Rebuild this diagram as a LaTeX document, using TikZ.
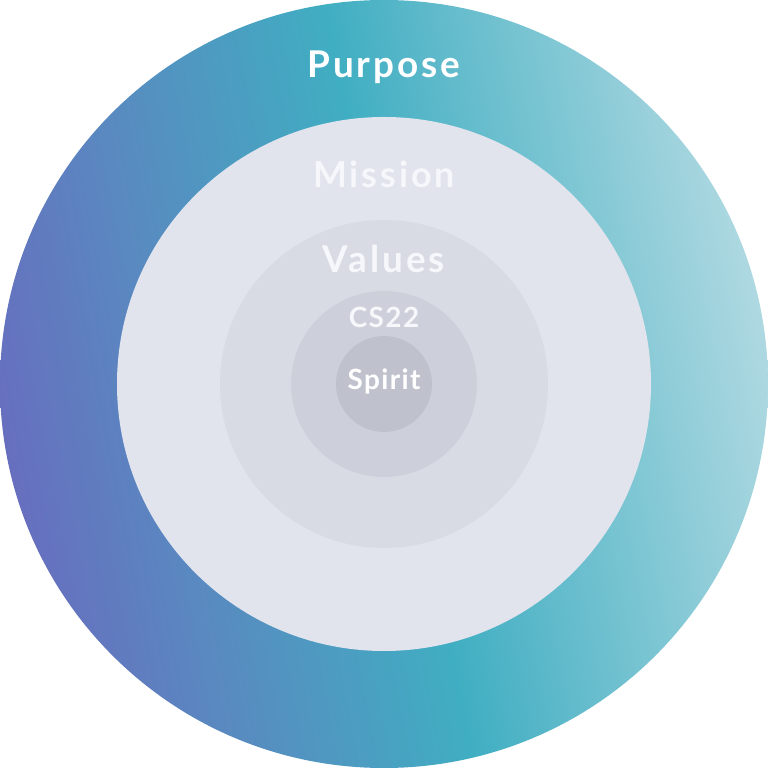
\documentclass[tikz,border=0pt]{standalone}
\usepackage{fontspec}
\setmainfont{Lato}
\definecolor{cpurple}{HTML}{6A68BE}
\definecolor{cblue}{HTML}{5A88C0}
\definecolor{cteal}{HTML}{40AEC2}
\definecolor{clight}{HTML}{BCDEE5}
\definecolor{ringA}{HTML}{E2E4ED}
\definecolor{ringB}{HTML}{D8DAE4}
\definecolor{ringC}{HTML}{CDD0DA}
\definecolor{ringD}{HTML}{BFC1CC}
\definecolor{txtA}{HTML}{F6F7FA}
\pgfdeclarehorizontalshading{purposeshade}{100bp}{
  color(0bp)=(cpurple);
  color(22bp)=(cpurple);
  color(35bp)=(cblue);
  color(51bp)=(cteal);
  color(70bp)=(clight!70!cteal);
  color(78bp)=(clight);
  color(100bp)=(clight)}
\tikzset{
  lbl/.style={anchor=base, text=white},
}
\begin{document}
\begin{tikzpicture}[x=1bp,y=1bp]
\useasboundingbox (0,0) rectangle (768,768);
\shade[shading=purposeshade, shading angle=11] (384,384) circle[radius=384];
\fill[ringA] (384,384) circle[radius=267];
\fill[ringB] (384,384) circle[radius=164];
\fill[ringC] (384,384) circle[radius=93];
\fill[ringD] (384,384) circle[radius=48];
\node[lbl, font=\fontsize{37}{40}\selectfont\bfseries\addfontfeature{LetterSpace=8}] (purpose) at (384,690) {Purpose};
\node[lbl, text=txtA, font=\fontsize{36}{40}\selectfont\bfseries\addfontfeature{LetterSpace=8}] (mission) at (384,580) {Mission};
\node[lbl, text=txtA, font=\fontsize{37}{40}\selectfont\bfseries\addfontfeature{LetterSpace=8}] (values) at (384,495) {Values};
\node[lbl, text=txtA, font=\fontsize{28}{30}\selectfont\bfseries\addfontfeature{LetterSpace=5}] (cs) at (384,440) {CS22};
\node[lbl, font=\fontsize{28}{30}\selectfont\bfseries\addfontfeature{LetterSpace=5}] (spirit) at (384,378) {Spirit};
\end{tikzpicture}
\end{document}
